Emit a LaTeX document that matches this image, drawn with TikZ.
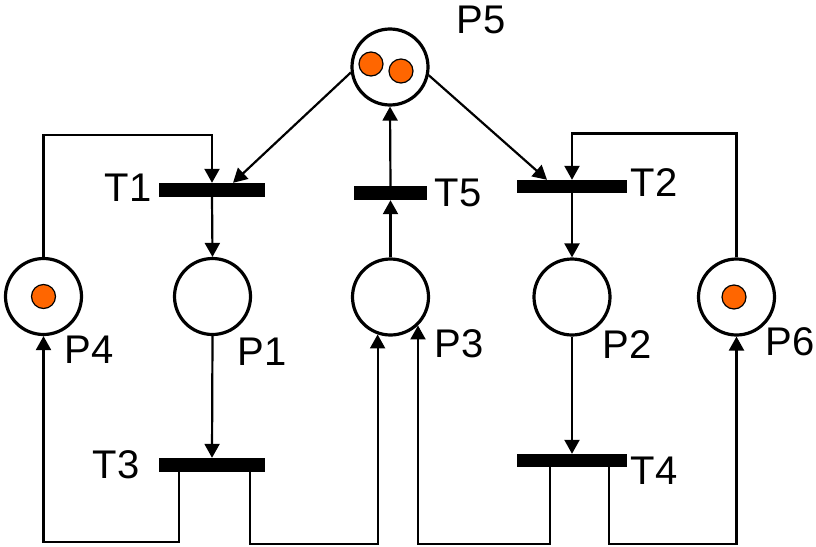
\documentclass[tikz,border=0pt]{standalone}
\usepackage{fontspec}
\setmainfont{Liberation Sans}
\usetikzlibrary{arrows.meta, positioning}

\definecolor{tokenorange}{RGB}{255,102,0}

\begin{document}
\begin{tikzpicture}[x=1pt, y=-1pt,
    place/.style={draw=black, circle, line width=3.2pt, minimum size=76pt, inner sep=0pt},
    trans/.style={fill=black, inner sep=0pt, minimum height=14pt},
    token/.style={draw=black, fill=tokenorange, circle, line width=1.2pt, minimum size=24pt, inner sep=0pt},
    lbl/.style={inner sep=0pt, font=\fontsize{40}{48}\selectfont},
    arc/.style={line width=2.2pt, -{Triangle[length=14pt, width=15pt]}}]
    \useasboundingbox (0,0) rectangle (816,546);

    % places
    \node[place] (P5) at (390,67) {};
    \node[place] (P4) at (43.5,296.5) {};
    \node[place] (P1) at (212.5,296.5) {};
    \node[place] (P3) at (390.5,297) {};
    \node[place] (P2) at (572,297) {};
    \node[place] (P6) at (736.5,297) {};

    % tokens
    \node[token] (k51) at (371,64) {};
    \node[token] (k52) at (401,71) {};
    \node[token] (k4) at (P4) {};
    \node[token] (k6) at (734,297) {};

    % transitions
    \node[trans, minimum width=106pt] (T1) at (212,190) {};
    \node[trans, minimum width=73pt] (T5) at (390.5,193) {};
    \node[trans, minimum width=110pt, minimum height=13pt] (T2) at (572,186.5) {};
    \node[trans, minimum width=106pt] (T3) at (212,465) {};
    \node[trans, minimum width=110pt, minimum height=13pt] (T4) at (572,460.5) {};

    % labels
    \node[lbl] (lP5) at (481,20) {P5};
    \node[lbl] (lP4) at (89,350) {P4};
    \node[lbl] (lP1) at (262,352) {P1};
    \node[lbl] (lP3) at (459,344) {P3};
    \node[lbl] (lP2) at (627,345) {P2};
    \node[lbl] (lP6) at (790,342) {P6};
    \node[lbl] (lT1) at (128,188) {T1};
    \node[lbl] (lT5) at (458,193) {T5};
    \node[lbl] (lT2) at (654,183) {T2};
    \node[lbl] (lT3) at (116,465) {T3};
    \node[lbl] (lT4) at (654,471) {T4};

    % arcs around P5
    \draw[arc] (P5.188) -- ([xshift=21pt]T1.north);
    \draw[arc] (P5.-12) -- ([xshift=-25pt]T2.north);
    \draw[arc] (T5.north) -- (P5.south);
    \draw[arc] (P3.north) -- (T5.south);

    % left half
    \draw[arc] (T1.south) -- (P1.north);
    \draw[arc] (P1.south) -- (T3.north);
    \draw[arc] (P4.north) -- ++(0,-122) -| (T1.north);
    \draw[arc] ([xshift=-33pt]T3.south) -- ++(0,70) -| (P4.south);
    \draw[arc] ([xshift=38pt]T3.south) -- ++(0,72) -| (P3.251);

    % right half
    \draw[arc] (T2.south) -- (P2.north);
    \draw[arc] (P2.south) -- (T4.north);
    \draw[arc] (P6.north) -- ++(0,-124) -| (T2.north);
    \draw[arc] ([xshift=-22pt]T4.south) -- ++(0,77) -| (P3.-46);
    \draw[arc] ([xshift=37pt]T4.south) -- ++(0,77) -| (P6.south);
\end{tikzpicture}
\end{document}
